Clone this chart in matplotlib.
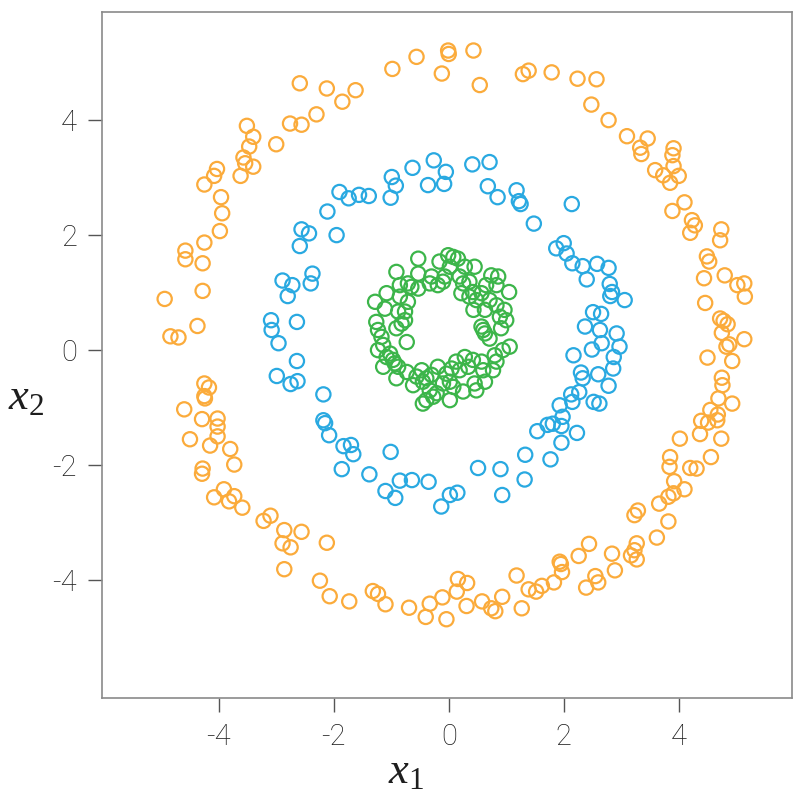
import numpy as np
import matplotlib
matplotlib.use("Agg")
import matplotlib.pyplot as plt

# outer ring (orange)
orange_x = [-2.59, -2.12, -1.62, -1.85, -2.30, -2.76, -2.56, -3.51, -3.40, -3.00, -3.47, -3.57, -3.54, -3.40,
            -4.03, -4.08, -3.62, -4.25, -3.96, -3.94, -3.98,
            -4.25, -4.58, -4.58, -4.28, -4.28, -4.94, -4.37, -4.84, -4.70, -4.25, -4.17, -4.25, -4.24, -4.60,
            -4.29, -4.02, -4.02,
            -4.02, -4.50, -4.15, -3.80, -3.73, -4.28, -4.29, -3.91, -4.08, -3.73, -3.82, -3.59, -3.10, -3.22,
            -2.86, -2.56, -2.89, -2.75, -2.12, -2.86, -2.24, -2.07, -1.73,
            -1.32, -1.23, -1.10, -0.69, -0.40, -0.33, -0.11, -0.04, 0.14, 0.16, 0.32, 0.31, 0.58, 0.74, 0.81,
            0.93, 1.18, 1.27, 1.39, 1.52, 1.62, 1.83,
            1.93, 1.95, 1.97, 2.26, 2.44, 2.39, 2.55, 2.60, 2.84, 2.89, 3.17, 3.27, 3.23, 3.27, 3.62, 3.82,
            3.23, 3.29, 3.66, 3.82, 3.91, 3.92, 4.10, 3.84, 3.85, 4.20, 4.31, 4.56, 4.02, 4.37, 4.74, 4.39,
            4.51, 4.67,
            4.49, 4.53, 4.80, 4.44, 5.02, 5.14, 5.15, 4.46, 4.72, 4.78, 4.85, 4.75, 5.14, 4.88, 4.83, 4.50,
            4.93, 4.75, 4.76, 4.69, 4.93, 4.55, 4.68,
            2.24, 2.57, 2.48, 2.78, 3.10, 3.46, 3.33, 3.35, 3.91, 3.89, 3.91, 3.59, 3.73, 4.00, 3.85, 4.10,
            3.89, 4.23, 4.28, 4.20, 4.74, 4.72,
            -0.98, -0.56, -0.12, -0.01, 0.00, 0.43, 0.54, 1.29, 1.39, 1.79]
orange_y = [4.64, 4.55, 4.52, 4.32, 4.10, 3.94, 3.92, 3.90, 3.71, 3.58, 3.54, 3.35, 3.25, 3.19,
            3.15, 3.03, 3.03, 2.88, 2.66, 2.38, 2.07,
            1.87, 1.73, 1.58, 1.51, 1.03, 0.89, 0.42, 0.24, 0.22, -0.58, -0.65, -0.80, -0.84, -1.03,
            -1.20, -1.19, -1.33,
            -1.50, -1.55, -1.66, -1.72, -1.99, -2.06, -2.15, -2.42, -2.56, -2.54, -2.63, -2.74, -2.88, -2.97,
            -3.13, -3.16, -3.36, -3.43, -3.35, -3.81, -4.01, -4.28, -4.37,
            -4.19, -4.24, -4.42, -4.48, -4.64, -4.41, -4.30, -4.68, -4.20, -3.98, -4.05, -4.45, -4.37, -4.49, -4.54,
            -4.29, -3.92, -4.49, -4.16, -4.20, -4.10, -4.04,
            -3.68, -3.72, -3.86, -3.58, -3.37, -4.13, -3.93, -4.04, -3.54, -3.83, -3.57, -3.36, -3.48, -3.64, -3.26, -2.98,
            -2.87, -2.79, -2.67, -2.55, -2.49, -2.28, -2.42, -2.03, -1.86, -2.05, -2.06, -1.86, -1.54, -1.46, -1.54, -1.23,
            -1.26, -1.22,
            1.63, 1.54, 1.30, 1.25, 1.13, 1.16, 0.93, 0.82, 0.55, 0.51, 0.45, 0.30, 0.19, 0.10, 0.06, -0.13,
            -0.19, -0.48, -0.61, -0.84, -0.93, -1.04, -1.12,
            4.72, 4.71, 4.27, 4.00, 3.72, 3.68, 3.52, 3.41, 3.51, 3.39, 3.20, 3.13, 3.04, 3.03, 2.91, 2.57,
            2.42, 2.26, 2.17, 2.04, 2.10, 1.91,
            4.89, 5.10, 4.81, 5.21, 5.15, 5.21, 4.61, 4.80, 4.86, 4.83]

# middle ring (blue)
blue_x = [-1.90, -1.74, -1.56, -1.39, -2.11, -2.56, -2.43, -1.95, -2.59,
          -2.89, -2.72, -2.80, -2.37, -2.40, -3.09, -3.08, -2.64, -2.96, -2.64, -2.99, -2.75, -2.63, -2.18,
          -2.18, -2.15,
          -2.08, -1.83, -1.70, -1.66, -1.86,
          -1.01, -1.38, -0.85, -0.64, -0.35, -1.10, -0.93, -0.13, 0.02, 0.15, 0.51, 0.90, 0.93, 1.32, 1.33,
          1.54, 1.72, 1.77, 1.96,
          1.81, 1.96, 2.23,
          1.87, 2.00, 2.05, 2.15, 2.33, 2.58, 2.78, 2.40, 2.80, 2.84, 2.81, 3.06, 2.51, 2.65, 2.37, 2.63,
          2.92, 2.66, 2.97, 2.49, 2.87, 2.17, 2.86, 2.60, 2.30, 2.33, 2.78, 2.27, 2.13, 2.15, 1.93, 2.52,
          2.62, 1.98,
          2.14,
          -0.99, -0.92, -1.01, -0.63, -0.26, -0.05, -0.36, -0.08, 0.41, 0.71, 0.68, 0.85, 1.18, 1.22, 1.25, 1.48]
blue_y = [2.75, 2.64, 2.70, 2.68, 2.41, 2.10, 2.03, 2.00, 1.81,
          1.21, 1.13, 0.94, 1.33, 1.16, 0.52, 0.35, 0.49, 0.12, -0.19, -0.45, -0.59, -0.54, -0.77,
          -1.22, -1.27,
          -1.48, -1.67, -1.65, -1.81, -2.07,
          -1.77, -2.16, -2.27, -2.26, -2.29, -2.45, -2.57, -2.72, -2.52, -2.48, -2.05, -2.07, -2.52, -2.25, -1.82,
          -1.41, -1.30, -1.90, -1.61,
          -1.28, -1.32, -1.44,
          1.77, 1.86, 1.68, 1.51, 1.46, 1.50, 1.43, 1.23, 1.15, 1.01, 0.94, 0.87, 0.66, 0.63, 0.41, 0.35,
          0.29, 0.12, 0.06, 0.01, -0.12, -0.09, -0.32, -0.42, -0.39, -0.49, -0.62, -0.73, -0.77, -0.90, -0.96, -0.90,
          -0.93, -1.16,
          2.54,
          3.01, 2.86, 2.65, 3.17, 3.30, 3.10, 2.87, 2.89, 3.23, 3.27, 2.85, 2.66, 2.78, 2.59, 2.54, 2.20]

# inner ring (green)
green_x = [-0.53, -0.91, -0.53, -0.30, -0.16, -0.01, 0.08, 0.16, 0.02, -0.07, -0.19, -0.33, -0.10, 0.28,
           0.45, 0.19, 0.25, 0.36, 0.42, 0.22, 0.36, 0.48, 0.74, 0.86, 0.65, 0.83, 1.05, 0.57, 0.71, 0.83,
           0.97, 0.89, 1.00, 0.63, 0.43, 0.91, 0.57, 0.63, 0.71, 0.60, 1.06, 0.94, 0.80, 0.83, 0.77, 0.60,
           0.57, 0.42, 0.28, 0.34, 0.19, 0.13, 0.05, -0.04, 0.02, 0.08, -0.10, -0.19, -0.30, -0.39, -0.45,
           -0.47, -0.56, -0.62, -0.33, -0.21, -0.39, -0.45, -0.27, 0.02, 0.25, 0.48, 0.45, 0.63, -0.73, -0.88,
           -0.91, -0.97, -1.02, -1.14, -1.23, -1.17, -1.23, -1.26, -1.28, -1.11, -1.08, -0.85, -0.71, -0.71,
           -0.76, -0.88, -0.91, -0.82, -0.76, -0.73, -0.85, -0.53, -0.65, -1.14, -0.94, -1.08]
green_y = [1.59, 1.36, 1.33, 1.28, 1.54, 1.65, 1.62, 1.59, 1.45, 1.28, 1.13, 1.16, 1.19, 1.45,
           1.45, 1.28, 1.16, 1.19, 1.01, 0.99, 0.93, 0.87, 1.30, 1.28, 1.13, 1.13, 1.01, 0.99, 0.87, 0.78,
           0.70, 0.58, 0.52, 0.70, 0.70, 0.38, 0.41, 0.29, 0.20, 0.35, 0.06, 0.00, -0.09, -0.20, -0.35, -0.35,
           -0.20, -0.17, -0.12, -0.29, -0.35, -0.20, -0.32, -0.41, -0.55, -0.64, -0.58, -0.29, -0.43, -0.49, -0.55,
           -0.35, -0.46, -0.61, -0.70, -0.75, -0.87, -0.93, -0.81, -0.87, -0.72, -0.70, -0.58, -0.55, -0.38, -0.29,
           -0.49, -0.17, -0.06, 0.09, 0.00, 0.23, 0.35, 0.49, 0.84, 0.72, 0.99, 1.13, 1.16, 0.84,
           0.67, 0.67, 0.38, 0.46, 0.52, 0.14, 0.93, 1.07, 1.10, -0.29, -0.23, -0.12]

xticks = [-4, -2, 0, 2, 4]
yticks = [-4, -2, 0, 2, 4]

# italic serif for the axis names, subscripts italic too
plt.rcParams['mathtext.fontset'] = 'custom'
plt.rcParams['mathtext.it'] = 'Liberation Serif:italic'
plt.rcParams['mathtext.rm'] = 'Liberation Serif'

fig = plt.figure(figsize=(8, 8), dpi=100)
ax = fig.add_axes([0.1275, 0.1275, 0.8625, 0.8575])

ax.scatter(orange_x, orange_y, s=105, facecolors='none', edgecolors='#fbab3b', linewidths=1.6)
ax.scatter(blue_x, blue_y, s=105, facecolors='none', edgecolors='#29a9e1', linewidths=1.6)
ax.scatter(green_x, green_y, s=105, facecolors='none', edgecolors='#3cb54a', linewidths=1.6)

ax.set_xlim(-6.03, 5.97)
ax.set_ylim(-6.05, 5.88)
ax.set_xticks(xticks)
ax.set_yticks(yticks)
ax.set_xticklabels([str(t) for t in xticks], fontfamily='Roboto', fontweight='light', fontsize=21, color='#1e1e1e')
ax.set_yticklabels([str(t) for t in yticks], fontfamily='Roboto', fontweight='light', fontsize=21, color='#1e1e1e')
ax.tick_params(direction='out', length=10, width=1, color='#555555', pad=8)

for s in ax.spines.values():
    s.set_color('#8a8a8a')
    s.set_linewidth(1.2)

ax.set_xlabel(r'$\mathit{x}_{\mathit{1}}$', fontsize=32, color='#1e1e1e')
ax.xaxis.set_label_coords(0.44, -0.075)
ax.set_ylabel(r'$\mathit{x}_{\mathit{2}}$', fontsize=32, color='#1e1e1e', rotation=0, va='center', ha='center')
ax.yaxis.set_label_coords(-0.11, 0.44)

fig.savefig('out.png', dpi=100)
